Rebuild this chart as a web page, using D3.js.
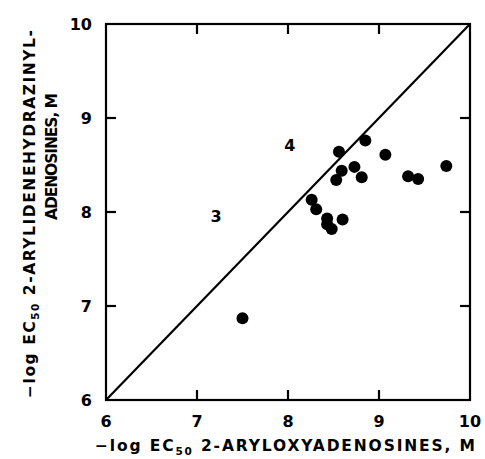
<!DOCTYPE html>
<html><head><meta charset="utf-8">
<script src="https://cdn.jsdelivr.net/npm/d3@7"></script>
<style>body{margin:0;background:#fff}svg{display:block}text{font-family:"DejaVu Sans",sans-serif;font-weight:bold;fill:#000}</style>
</head><body>
<script>
const xValues = [8.85, 8.56, 9.07, 9.74, 8.73, 8.59, 9.32, 9.43, 8.81, 8.53, 8.26, 8.31, 8.43, 8.43, 8.48, 8.60, 7.50];
const yValues = [8.76, 8.64, 8.61, 8.49, 8.48, 8.44, 8.38, 8.35, 8.37, 8.34, 8.13, 8.03, 7.93, 7.87, 7.82, 7.92, 6.87];
const pointLabels = [{t:"4", x:8.02, y:8.71}, {t:"3", x:7.21, y:7.96}];
const tickValues = [6, 7, 8, 9, 10];
const xTitle = "2-ARYLOXYADENOSINES, M";
const yTitle1 = "2-ARYLIDENEHYDRAZINYL-";
const yTitle2 = "ADENOSINES, M";

const W = 485, H = 459;
const svg = d3.select("body").append("svg").attr("width", W).attr("height", H);
const x = d3.scaleLinear().domain([6, 10]).range([106, 470]);
const y = d3.scaleLinear().domain([6, 10]).range([400, 24]);
const sw = 2.2, tl = 10;
const inner = tickValues.slice(1, -1);

// frame
svg.append("rect").attr("x", x(6)).attr("y", y(10)).attr("width", x(10) - x(6)).attr("height", y(6) - y(10))
  .attr("fill", "none").attr("stroke", "#000").attr("stroke-width", sw);

// inward ticks on all four sides
const tk = [];
inner.forEach(v => {
  tk.push({x: x(v) - sw / 2, y: y(6) - tl, w: sw, h: tl});
  tk.push({x: x(v) - sw / 2, y: y(10), w: sw, h: tl});
  tk.push({x: x(6), y: y(v) - sw / 2, w: tl, h: sw});
  tk.push({x: x(10) - tl, y: y(v) - sw / 2, w: tl, h: sw});
});
svg.selectAll("rect.tick").data(tk).join("rect").attr("class", "tick")
  .attr("x", d => d.x).attr("y", d => d.y).attr("width", d => d.w).attr("height", d => d.h).attr("fill", "#000");

// tick labels
svg.selectAll(".xt").data(tickValues).join("text").attr("class","xt")
  .attr("x", d => x(d)).attr("y", 427).attr("text-anchor", "middle").attr("font-size", 16).text(d => d);
svg.selectAll(".yt").data(tickValues).join("text").attr("class","yt")
  .attr("x", 92).attr("y", d => y(d) + 6).attr("text-anchor", "end").attr("font-size", 16).text(d => d);

// diagonal
svg.append("line").attr("x1", x(6)).attr("y1", y(6)).attr("x2", x(10)).attr("y2", y(10))
  .attr("stroke", "#000").attr("stroke-width", sw);

// points
svg.selectAll("circle").data(xValues).join("circle")
  .attr("cx", d => x(d)).attr("cy", (d, i) => y(yValues[i])).attr("r", 6).attr("fill", "#000");

// labels
svg.selectAll(".pl").data(pointLabels).join("text").attr("class","pl")
  .attr("x", d => x(d.x)).attr("y", d => y(d.y) + 6).attr("text-anchor", "middle").attr("font-size", 16).text(d => d.t);

// x title
const xt = svg.append("text").attr("x", 95).attr("y", 451).attr("font-size", 15.5)
  .attr("textLength", 380).attr("lengthAdjust", "spacing");
xt.append("tspan").text("\u2212log EC");
xt.append("tspan").attr("font-size", 10.5).attr("dy", 4).text("50");
xt.append("tspan").attr("dy", -4).text(" " + xTitle);

// y title
const yt1 = svg.append("text").attr("transform", "translate(35,398) rotate(-90)").attr("font-size", 15.5)
  .attr("textLength", 368).attr("lengthAdjust", "spacing");
yt1.append("tspan").text("\u2212log EC");
yt1.append("tspan").attr("font-size", 10.5).attr("dy", 4).text("50");
yt1.append("tspan").attr("dy", -4).text(" " + yTitle1);
svg.append("text").attr("transform", "translate(57,220) rotate(-90)").attr("font-size", 15.5)
  .attr("textLength", 127).attr("lengthAdjust", "spacing").text(yTitle2);
</script>
</body></html>
